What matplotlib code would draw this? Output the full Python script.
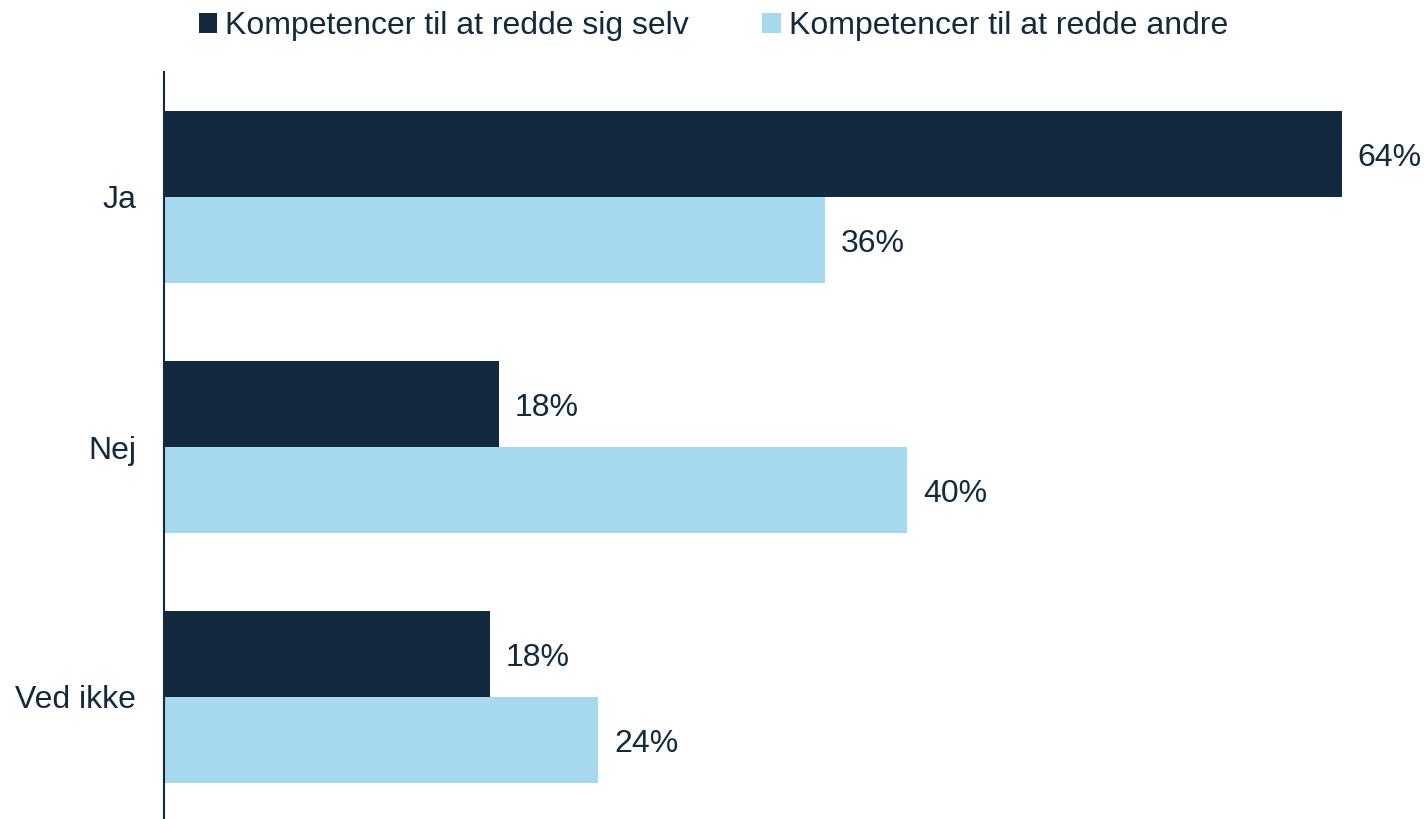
import matplotlib
matplotlib.use("Agg")
import matplotlib.pyplot as plt
import numpy as np

categories = ["Ja", "Nej", "Ved ikke"]
series_names = ["Kompetencer til at redde sig selv", "Kompetencer til at redde andre"]
selv = [64.0, 18.2, 17.7]
andre = [35.9, 40.4, 23.6]

dark = "#13293D"
light = "#A6D9EE"
text_color = "#13293D"

plt.rcParams['font.family'] = ['Liberation Sans', 'DejaVu Sans']
fs = 23

fig = plt.figure(figsize=(14.27, 8.19), dpi=100)
ax = fig.add_axes([164/1427, 0, 1 - 164/1427, (819-72)/819])

y = np.arange(len(categories))
h = 0.344
b1 = ax.barh(y - h/2, selv, height=h, color=dark, label=series_names[0])
b2 = ax.barh(y + h/2, andre, height=h, color=light, label=series_names[1])

for bars, vals in ((b1, selv), (b2, andre)):
    labs = ax.bar_label(bars, labels=[f"{v:.0f}%" for v in vals], padding=11.5,
                        fontsize=fs, color=text_color)
    for a in labs:
        a.xyann = (11.5, -3)

ax.set_xlim(0, (1427-164)/18.4)
ax.set_ylim(2.488, -0.5)
ax.set_yticks(y)
ax.set_yticklabels(categories, fontsize=fs, color=text_color)
ax.tick_params(axis='y', length=0, pad=20)
ax.set_xticks([])
for s in ['top', 'right', 'bottom']:
    ax.spines[s].set_visible(False)
ax.spines['left'].set_color(dark)
ax.spines['left'].set_linewidth(1.5)

leg = fig.legend(handles=[b1, b2], loc='center', bbox_to_anchor=(0.5, 1 - 26/819),
                 ncol=2, frameon=False, fontsize=fs, handlelength=0.58, handleheight=0.58,
                 handletextpad=0.25, columnspacing=2.3, borderaxespad=0, borderpad=0)
for t in leg.get_texts():
    t.set_color(text_color)

fig.savefig("out.png", dpi=100)
